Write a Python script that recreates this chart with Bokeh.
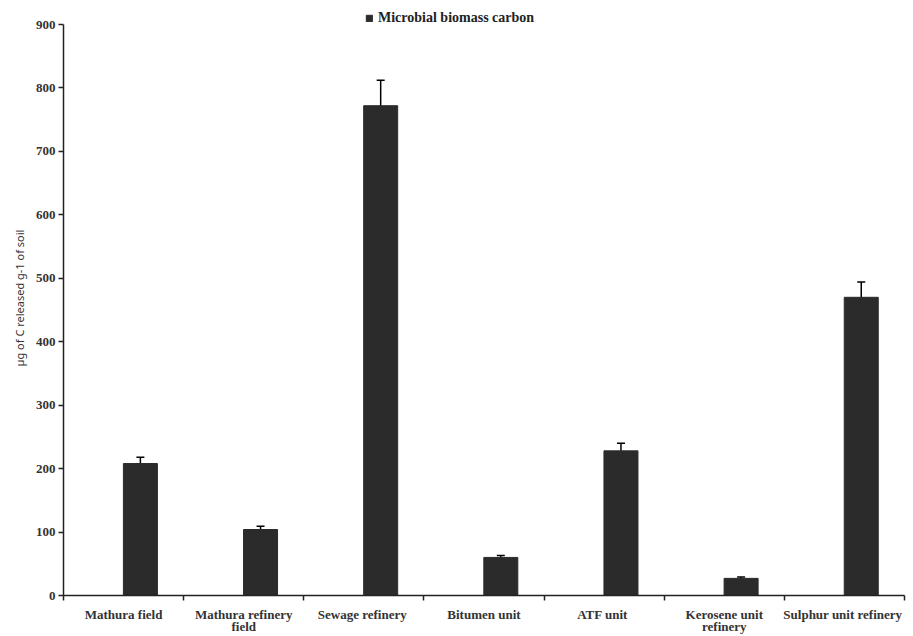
from bokeh.plotting import figure
from bokeh.models import (ColumnDataSource, FixedTicker, LinearAxis, Whisker,
                          TeeHead, Legend, LegendItem, Range1d)
from bokeh.embed import file_html
from bokeh.resources import INLINE

# Microbial biomass carbon per soil sample (µg C released per g of soil)
categories = [
    "Mathura field",
    "Mathura refinery\nfield",
    "Sewage  refinery",
    "Bitumen unit",
    "ATF  unit",
    "Kerosene unit\nrefinery",
    "Sulphur  unit refinery",
]
mbc_values = [208, 104, 772, 60, 228, 27, 470]
mbc_errors = [10, 5, 40, 3, 12, 2, 24]
y_ticks = [0, 100, 200, 300, 400, 500, 600, 700, 800, 900]

BAR_OFFSET = 0.64   # bar sits right of the category centre
BAR_WIDTH = 0.283

# plot area spans the full height; the axis itself stops at the top tick,
# leaving a strip above it for the legend
FRAME_H = 595
AXIS_H = 571
y_top = y_ticks[-1] * FRAME_H / AXIS_H

idx = list(range(len(categories)))
source = ColumnDataSource(dict(
    x=[i + BAR_OFFSET for i in idx],
    top=mbc_values,
    upper=[v + e for v, e in zip(mbc_values, mbc_errors)],
    lower=[v - e for v, e in zip(mbc_values, mbc_errors)],
))

p = figure(width=913, height=636, output_backend="svg", toolbar_location=None,
           x_range=Range1d(0, len(categories)), y_range=Range1d(0, y_top),
           min_border_left=63, min_border_right=9, min_border_top=0,
           min_border_bottom=41)
p.outline_line_color = None
p.xgrid.grid_line_color = None
p.ygrid.grid_line_color = None
p.background_fill_color = "white"

bars = p.vbar(x="x", width=BAR_WIDTH, top="top", bottom=0, source=source,
              fill_color="#2b2b2b", line_color="#2b2b2b")

whisker = Whisker(base="x", upper="upper", lower="lower", source=source,
                  line_color="black", line_width=1.5,
                  upper_head=TeeHead(size=8, line_color="black", line_width=1.5),
                  lower_head=TeeHead(size=8, line_color="black", line_width=1.5))
p.add_layout(whisker)

serif = "Liberation Serif"

# y axis
ya = p.yaxis[0]
ya.ticker = FixedTicker(ticks=y_ticks)
ya.bounds = (y_ticks[0], y_ticks[-1])
ya.minor_tick_line_color = None
ya.major_tick_in = 0
ya.major_tick_out = 5
ya.axis_line_width = 1.5
ya.axis_line_color = "#222222"
ya.major_tick_line_color = "#222222"
ya.major_tick_line_width = 1.5
ya.major_label_standoff = 3
ya.major_label_text_font = serif
ya.major_label_text_font_style = "bold"
ya.major_label_text_font_size = "13px"
ya.major_label_text_color = "#333333"
ya.axis_label = "µg of C released g-1 of soil"
ya.axis_label_text_font = "Noto Sans"
ya.axis_label_text_font_style = "normal"
ya.axis_label_text_font_size = "11px"
ya.axis_label_text_color = "#333333"
ya.axis_label_standoff = 6

# x axis: tick marks at the category boundaries
bounds = list(range(len(categories) + 1))
xa = p.xaxis[0]
xa.ticker = FixedTicker(ticks=bounds)
xa.major_label_overrides = {b: "" for b in bounds}
xa.minor_tick_line_color = None
xa.major_tick_in = 0
xa.major_tick_out = 5
xa.major_tick_line_color = "#222222"
xa.major_tick_line_width = 1.5
xa.axis_line_width = 1.5
xa.axis_line_color = "#222222"
xa.major_label_text_font_size = "1px"
xa.major_label_standoff = 0

# x axis: category names centred in each slot
centres = [i + 0.5 for i in idx]
label_axis = LinearAxis(
    ticker=FixedTicker(ticks=centres),
    major_label_overrides={c: name for c, name in zip(centres, categories)},
    axis_line_color=None, major_tick_line_color=None, minor_tick_line_color=None,
    major_label_standoff=0,
    major_label_text_font=serif, major_label_text_font_style="bold",
    major_label_text_font_size="13px", major_label_text_color="#333333",
    major_label_text_line_height=0.8,
)
p.add_layout(label_axis, "below")

# legend in the strip above the top tick
legend = Legend(
    items=[LegendItem(label="Microbial biomass carbon", renderers=[bars])],
    location=(302, FRAME_H - 26), orientation="horizontal",
    padding=0, margin=0, spacing=0,
    glyph_width=8, glyph_height=8, label_height=14, label_standoff=5,
    border_line_color=None, background_fill_alpha=0,
    label_text_font=serif, label_text_font_style="bold",
    label_text_font_size="14px", label_text_color="#222222",
)
p.add_layout(legend, "center")

open("out.html", "w").write(file_html(p, INLINE))
